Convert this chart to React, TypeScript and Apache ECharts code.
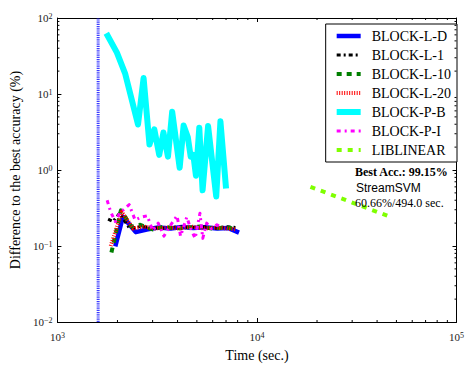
import React, { useEffect, useRef } from "react";
import * as echarts from "echarts";

const names = ["BLOCK-L-D", "BLOCK-L-1", "BLOCK-L-10", "BLOCK-L-20", "BLOCK-P-B", "BLOCK-P-I", "LIBLINEAR"];

const ldX = [1950, 2130, 2470, 2800, 3200, 3700, 4200, 4800, 5500, 6300, 7200, 8130];
const ldY = [0.099, 0.243, 0.152, 0.165, 0.175, 0.17, 0.178, 0.172, 0.176, 0.17, 0.172, 0.150];

const l1X = [1795, 1900, 2050, 2300, 2600, 3000, 3500, 4000, 4600, 5300, 6100, 7000, 7800];
const l1Y = [0.226, 0.21, 0.27, 0.17, 0.18, 0.175, 0.17, 0.18, 0.175, 0.18, 0.17, 0.18, 0.175];

const l10X = [1865, 2080, 2350, 2600, 3000, 3400, 3900, 4500, 5200, 6000, 6900, 7700];
const l10Y = [0.082, 0.294, 0.18, 0.19, 0.165, 0.18, 0.17, 0.175, 0.18, 0.17, 0.175, 0.17];

const l20X = [1850, 2100, 2400, 2700, 3100, 3600, 4100, 4700, 5400, 6200, 7100, 7900];
const l20Y = [0.1, 0.28, 0.17, 0.18, 0.17, 0.175, 0.17, 0.18, 0.17, 0.175, 0.17, 0.165];

const pbX = [1758, 1987, 2183, 2535, 2703, 2893, 3059, 3238, 3399, 3581, 3759, 4099, 4290, 4505, 4655, 4800, 4945, 5140, 5340, 5690, 6250, 6560, 7000];
const pbY = [63, 35, 18.7, 3.97, 16.2, 2.16, 3.43, 1.58, 3.11, 1.5, 5.85, 1.07, 3.85, 2.69, 1.5, 1.58, 0.84, 3.6, 0.54, 3.78, 0.448, 4.37, 0.57];

const piX = [1775, 1850, 1950, 2050, 2290, 2450, 2630, 2820, 3000, 3200, 3420, 3700, 3980, 4140, 4450, 4650, 4900, 5180, 5350, 5600, 5900, 6300, 6700];
const piY = [0.4, 0.28, 0.21, 0.27, 0.35, 0.22, 0.24, 0.25, 0.16, 0.2, 0.135, 0.19, 0.25, 0.135, 0.24, 0.17, 0.126, 0.27, 0.126, 0.2, 0.17, 0.19, 0.175];

const libX = [18540, 47400];
const libY = [0.6, 0.238];

const streamX = [1600, 1600];
const streamY = [0.01, 100];

const xMinor = [2000, 3000, 4000, 5000, 6000, 7000, 8000, 9000, 20000, 30000, 40000, 50000, 60000, 70000, 80000, 90000];
const yMinor = [0.02, 0.03, 0.04, 0.05, 0.06, 0.07, 0.08, 0.09, 0.2, 0.3, 0.4, 0.5, 0.6, 0.7, 0.8, 0.9, 2, 3, 4, 5, 6, 7, 8, 9, 20, 30, 40, 50, 60, 70, 80, 90];

const SERIF = "'Liberation Serif', 'DejaVu Serif', serif";
const SANS = "'Liberation Sans', 'DejaVu Sans', sans-serif";

const zip = (xs: number[], ys: number[]) => xs.map((x, i) => [x, ys[i]]);

const styles: any[] = [
  { color: "#0000ff", width: 4.5, type: "solid" },
  { color: "#000000", width: 3, type: [4, 3, 2, 3] },
  { color: "#007f00", width: 4, type: [5, 5] },
  { color: "#ff0000", width: 4, type: [1, 1.5] },
  { color: "#00ffff", width: 6, type: "solid" },
  { color: "#ff00ff", width: 3, type: [4, 4, 2, 4] },
  { color: "#7fff00", width: 4, type: [5, 6] },
];

const seriesData = [zip(ldX, ldY), zip(l1X, l1Y), zip(l10X, l10Y), zip(l20X, l20Y), zip(pbX, pbY), zip(piX, piY), zip(libX, libY)];

const supFmt = (v: number) => {
  const e = Math.round(Math.log10(v));
  return "10{sup|" + (e < 0 ? "\u2212" + -e : String(e)) + "}";
};

const labelRich = {
  sup: { fontSize: 8, fontFamily: SERIF, color: "#222", verticalAlign: "top", lineHeight: 8, padding: [0, 0, 4, 0] },
};

export default function App() {
  const ref = useRef<HTMLDivElement>(null);
  useEffect(() => {
    if (!ref.current) return;
    const chart = echarts.init(ref.current, undefined, { renderer: "svg" });
    const axisCommon = (show: boolean, margin: number) => ({
      type: "log",
      logBase: 10,
      axisLine: { show: true, onZero: false, lineStyle: { color: "#000", width: 1 } },
      axisTick: { show: true, inside: true, length: 4, lineStyle: { color: "#000" } },
      splitLine: { show: false },
      axisLabel: show
        ? { show: true, formatter: supFmt, fontFamily: SERIF, fontSize: 11, color: "#222", rich: labelRich, margin }
        : { show: false },
    });
    const lineSeries = names.map((n, i) => ({
      name: n,
      type: "line",
      data: seriesData[i],
      symbol: "none",
      showSymbol: false,
      color: styles[i].color,
      lineStyle: { color: styles[i].color, width: styles[i].width, type: styles[i].type, cap: "butt", join: "round" },
      itemStyle: { color: styles[i].color },
      z: 3 + i,
    }));
    const option: any = {
      animation: false,
      backgroundColor: "#fff",
      grid: { left: 54, right: 4, top: 18, bottom: 33, containLabel: false },
      xAxis: [
        {
          ...axisCommon(true, 9),
          min: 1000,
          max: 100000,
          position: "bottom",
          name: "Time (sec.)",
          nameLocation: "middle",
          nameGap: 26,
          nameTextStyle: { fontFamily: SERIF, fontSize: 14, color: "#000" },
        },
        { ...axisCommon(false, 0), min: 1000, max: 100000, position: "top" },
      ],
      yAxis: [
        {
          ...axisCommon(true, 5),
          min: 0.01,
          max: 100,
          position: "left",
          name: "Difference to the best accuracy (%)",
          nameLocation: "middle",
          nameGap: 28,
          nameTextStyle: { fontFamily: SERIF, fontSize: 14, color: "#000" },
        },
        { ...axisCommon(false, 0), min: 0.01, max: 100, position: "right" },
      ],
      legend: {
        data: names.map((n, i) => ({
          name: n,
          itemStyle: { opacity: 0, color: "rgba(0,0,0,0)", borderWidth: 0 },
          lineStyle: { width: styles[i].width, type: styles[i].type, color: styles[i].color, cap: "butt" },
        })),
        orient: "vertical",
        right: 10,
        top: 24,
        itemWidth: 24,
        itemHeight: 12,
        itemGap: 5,
        padding: [5, 6, 5, 8],
        borderColor: "#000",
        borderWidth: 1,
        borderRadius: 0,
        backgroundColor: "#fff",
        textStyle: { fontFamily: SERIF, fontSize: 14, color: "#000", padding: [0, 0, 0, 6] },
        selectedMode: false,
      },
      series: [
        ...lineSeries,
        {
          name: "StreamSVM",
          type: "line",
          data: zip(streamX, streamY),
          symbol: "none",
          color: "#0000ff",
          lineStyle: { color: "#1a1aff", width: 3, type: [1.2, 1], cap: "butt", opacity: 0.85 },
          z: 2,
        },
        {
          name: "xminor",
          type: "custom",
          silent: true,
          clip: false,
          z: 20,
          data: xMinor.map((v) => [v, 1]),
          renderItem: (params: any, api: any) => {
            const cs = params.coordSys;
            const px = api.coord([api.value(0), 1])[0];
            const b = cs.y + cs.height;
            return {
              type: "group",
              children: [
                { type: "line", shape: { x1: px, y1: b, x2: px, y2: b - 2 }, style: { stroke: "#000", lineWidth: 1 } },
                { type: "line", shape: { x1: px, y1: cs.y, x2: px, y2: cs.y + 2 }, style: { stroke: "#000", lineWidth: 1 } },
              ],
            };
          },
        },
        {
          name: "yminor",
          type: "custom",
          silent: true,
          clip: false,
          z: 20,
          data: yMinor.map((v) => [2000, v]),
          renderItem: (params: any, api: any) => {
            const cs = params.coordSys;
            const py = api.coord([2000, api.value(1)])[1];
            const r = cs.x + cs.width;
            return {
              type: "group",
              children: [
                { type: "line", shape: { x1: cs.x, y1: py, x2: cs.x + 2, y2: py }, style: { stroke: "#000", lineWidth: 1 } },
                { type: "line", shape: { x1: r, y1: py, x2: r - 2, y2: py }, style: { stroke: "#000", lineWidth: 1 } },
              ],
            };
          },
        },
      ],
      graphic: [
        { type: "text", left: 355, top: 166, style: { text: "Best Acc.: 99.15%", font: "bold 12px " + SERIF, fill: "#000" }, z: 100 },
        { type: "text", left: 356, top: 182, style: { text: "StreamSVM", font: "12px " + SANS, fill: "#000" }, z: 100 },
        { type: "text", left: 355, top: 197, style: { text: "60.66%/494.0 sec.", font: "12px " + SERIF, fill: "#000" }, z: 100 },
      ],
    };
    chart.setOption(option);
    return () => chart.dispose();
  }, []);
  return <div ref={ref} style={{ width: 467, height: 367, position: "fixed", left: 0, top: 0 }} />;
}
